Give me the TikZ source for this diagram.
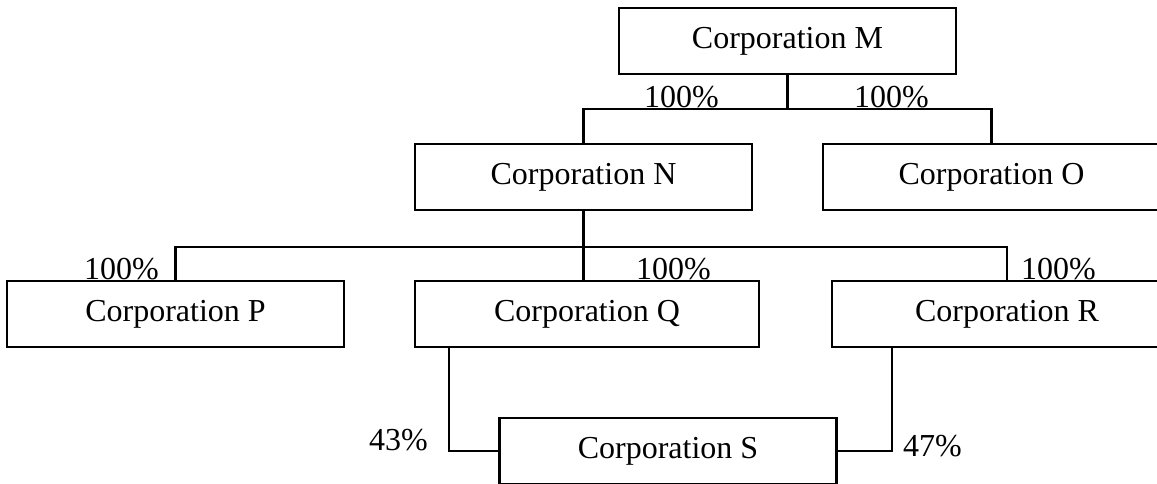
\documentclass[tikz,border=0pt]{standalone}
\usepackage{fontspec}
\setmainfont{Liberation Serif}
\begin{document}
\begin{tikzpicture}[x=1pt,y=-1pt,
  corp/.style={draw, line width=2.2pt, minimum width=337pt, minimum height=66pt,
    inner sep=0pt, font=\fontsize{32}{38}\selectfont},
  link/.style={line width=2.2pt},
  pct/.style={inner sep=0pt, font=\fontsize{32}{38}\selectfont}]
\useasboundingbox (0,0) rectangle (1157,483);
\clip (0,0) rectangle (1157,483);

% companies
\node[corp] (M) at (787.5,41) {Corporation M};
\node[corp] (N) at (583.5,177) {Corporation N};
\node[corp] (O) at (991.5,177) {Corporation O};
\node[corp] (P) at (175.5,314) {Corporation P};
\node[corp, minimum width=344pt] (Q) at (587,314) {Corporation Q};
\node[corp, minimum width=350pt] (R) at (1007,314) {Corporation R};
\node[corp] (S) at (668,451) {Corporation S};

% junction points of the ownership lines
\coordinate (mj) at (787.5,109);
\coordinate (nj) at (583.5,247);
\coordinate (qx) at (449,0);
\coordinate (rx) at (892,0);

% ownership lines
\draw[link] (M.south) -- (mj);
\draw[link] (N.north) |- (mj) -| (O.north);
\draw[link] (N.south) -- (nj);
\draw[link] (P.north) |- (nj) -| (R.north);
\draw[link] (nj) -- (nj |- Q.north);
\draw[link] (S.west) -| (Q.south -| qx);
\draw[link] (S.east) -| (R.south -| rx);

% percentages
\node[pct, anchor=base west] (pMN) at (644,107) {100\%};
\node[pct, anchor=base west] (pMO) at (854,107) {100\%};
\node[pct, anchor=base west] (pNP) at (84,279) {100\%};
\node[pct, anchor=base west] (pNQ) at (636,279) {100\%};
\node[pct, anchor=base west] (pNR) at (1021,279) {100\%};
\node[pct, anchor=base east] (pQS) at (428,450) {43\%};
\node[pct, anchor=base west] (pRS) at (903,456) {47\%};
\end{tikzpicture}
\end{document}
